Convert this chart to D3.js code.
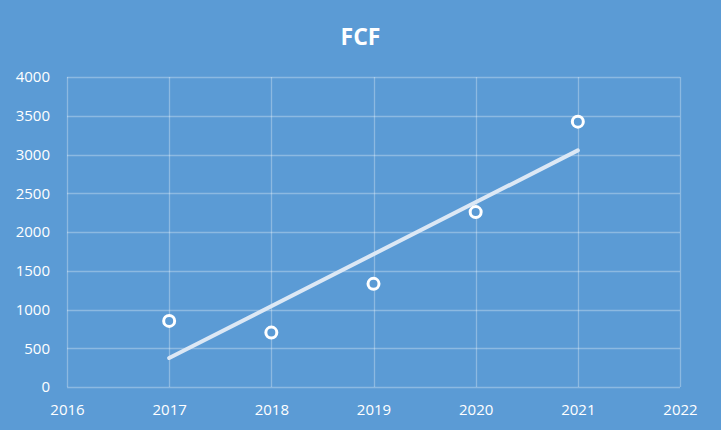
<!DOCTYPE html>
<html>
<head>
<meta charset="utf-8">
<script src="https://cdn.jsdelivr.net/npm/d3@7"></script>
<style>
  body { margin: 0; background: #5b9bd5; }
  svg { display: block; }
  text { font-family: 'Open Sans', 'Liberation Sans', sans-serif; }
</style>
</head>
<body>
<div id="chart"></div>
<script>
const width = 721, height = 430;
const margin = {top: 77, right: 41, bottom: 43, left: 67};

// data
var years = [2017, 2018, 2019, 2020, 2021];
var fcf = [853, 702, 1331, 2257, 3424];
var xTicks = [2016, 2017, 2018, 2019, 2020, 2021, 2022];
var yTicks = [0, 500, 1000, 1500, 2000, 2500, 3000, 3500, 4000];

let svg = d3.select("#chart")
    .append("svg")
    .attr("width", width)
    .attr("height", height);

svg.append("rect")
    .attr("width", width)
    .attr("height", height)
    .attr("fill", "#5b9bd5");

let x = d3.scaleLinear()
    .domain([2016, 2022])
    .range([margin.left, width - margin.right]);

let y = d3.scaleLinear()
    .domain([0, 4000])
    .range([height - margin.bottom, margin.top]);

// gridlines
let grid = svg.append("g")
    .attr("stroke", "#ffffff")
    .attr("stroke-opacity", 0.3)
    .attr("stroke-width", 1.3);

grid.selectAll("line.h")
    .data(yTicks)
    .enter()
    .append("line")
    .attr("class", "h")
    .attr("x1", x(2016))
    .attr("x2", x(2022))
    .attr("y1", function(d) { return Math.round(y(d)) + 0.5; })
    .attr("y2", function(d) { return Math.round(y(d)) + 0.5; });

grid.selectAll("line.v")
    .data(xTicks)
    .enter()
    .append("line")
    .attr("class", "v")
    .attr("y1", y(0))
    .attr("y2", y(4000))
    .attr("x1", function(d) { return Math.round(x(d)) + 0.5; })
    .attr("x2", function(d) { return Math.round(x(d)) + 0.5; });

// axes, labels only
let yAxis = svg.append("g")
    .attr("transform", `translate(${margin.left - 17}, 0)`)
    .call(d3.axisLeft(y).tickValues(yTicks).tickFormat(d3.format("d")).tickSize(0).tickPadding(0));
yAxis.select(".domain").remove();
yAxis.selectAll("text")
    .attr("fill", "#ffffff")
    .style("font-family", "'Open Sans', 'Liberation Sans', sans-serif")
    .style("font-size", "15px");

let xAxis = svg.append("g")
    .attr("transform", `translate(0, ${height - margin.bottom + 17})`)
    .call(d3.axisBottom(x).tickValues(xTicks).tickFormat(d3.format("d")).tickSize(0).tickPadding(0));
xAxis.select(".domain").remove();
xAxis.selectAll("text")
    .attr("fill", "#ffffff")
    .style("font-family", "'Open Sans', 'Liberation Sans', sans-serif")
    .style("font-size", "15px");

// linear trendline from the points
let mx = d3.mean(years), my = d3.mean(fcf);
let slope = d3.sum(years, function(d, i) { return (d - mx) * (fcf[i] - my); }) /
            d3.sum(years, function(d) { return (d - mx) * (d - mx); });
let icpt = my - slope * mx;
let ends = [years[0], years[years.length - 1]];

svg.append("path")
    .datum(ends)
    .attr("fill", "none")
    .attr("stroke", "#dce8f5")
    .attr("stroke-width", 4)
    .attr("stroke-linecap", "round")
    .attr("d", d3.line()
        .x(function(d) { return x(d); })
        .y(function(d) { return y(icpt + slope * d); }));

// points
svg.selectAll("circle.pt")
    .data(years)
    .enter()
    .append("circle")
    .attr("class", "pt")
    .attr("cx", function(d) { return x(d); })
    .attr("cy", function(d, i) { return y(fcf[i]); })
    .attr("r", 5.5)
    .attr("fill", "#5b9bd5")
    .attr("stroke", "#ffffff")
    .attr("stroke-width", 3);

// title
svg.append("text")
    .attr("x", width / 2)
    .attr("y", 45)
    .attr("text-anchor", "middle")
    .attr("fill", "#ffffff")
    .style("font-size", "23px")
    .style("font-weight", "bold")
    .text("FCF");
</script>
</body>
</html>
